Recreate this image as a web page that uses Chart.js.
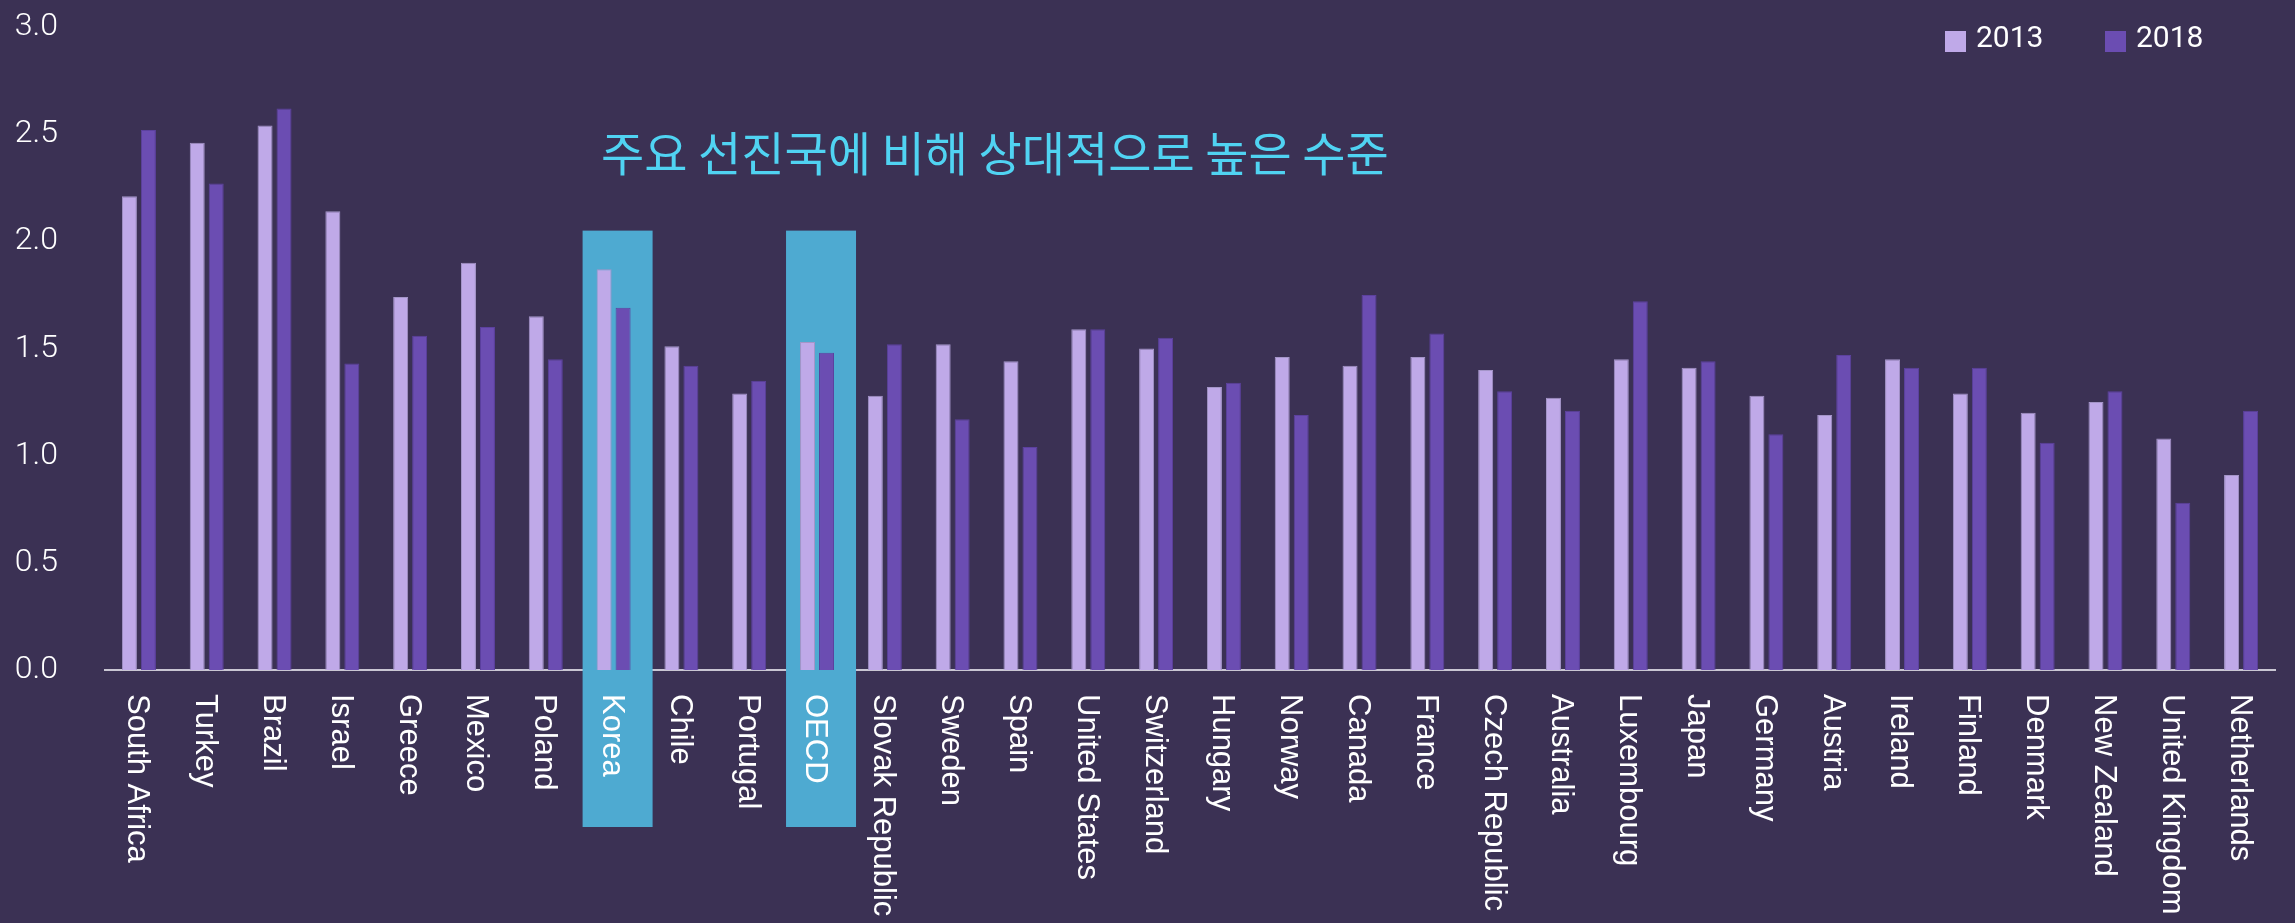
<!DOCTYPE html>
<html>
<head>
<meta charset="utf-8">
<script src="https://cdn.jsdelivr.net/npm/chart.js@4"></script>
<style>
  html, body { margin: 0; padding: 0; background: #3b3154; }
  #wrap { width: 2295px; height: 923px; position: relative; }
</style>
</head>
<body>
<div id="wrap"><canvas id="ratioChart"></canvas></div>
<script>
// 2013 vs 2018 comparison by country

const countries = ['South Africa', 'Turkey', 'Brazil', 'Israel', 'Greece', 'Mexico', 'Poland', 'Korea',
  'Chile', 'Portugal', 'OECD', 'Slovak Republic', 'Sweden', 'Spain', 'United States', 'Switzerland',
  'Hungary', 'Norway', 'Canada', 'France', 'Czech Republic', 'Australia', 'Luxembourg', 'Japan',
  'Germany', 'Austria', 'Ireland', 'Finland', 'Denmark', 'New Zealand', 'United Kingdom', 'Netherlands'];

const values2013 = [2.21, 2.46, 2.54, 2.14, 1.74, 1.90, 1.65, 1.87, 1.51, 1.29, 1.53, 1.28, 1.52, 1.44, 1.59, 1.50,
  1.32, 1.46, 1.42, 1.46, 1.40, 1.27, 1.45, 1.41, 1.28, 1.19, 1.45, 1.29, 1.20, 1.25, 1.08, 0.91];

const values2018 = [2.52, 2.27, 2.62, 1.43, 1.56, 1.60, 1.45, 1.69, 1.42, 1.35, 1.48, 1.52, 1.17, 1.04, 1.59, 1.55,
  1.34, 1.19, 1.75, 1.57, 1.30, 1.21, 1.72, 1.44, 1.10, 1.47, 1.41, 1.41, 1.06, 1.30, 0.78, 1.21];

const seriesNames = ['2013', '2018'];
const yTicks = [0, 0.5, 1.0, 1.5, 2.0, 2.5, 3.0];

const highlighted = ['Korea', 'OECD'];
const highlightTop = 2.05;
const note = '주요 선진국에 비해 상대적으로 높은 수준';

const COLOR_2013 = '#bfa9e8';
const COLOR_2018 = '#6b4db2';
const HIGHLIGHT = '#4eaad1';

// blue boxes behind Korea / OECD
const highlightPlugin = {
  id: 'highlight',
  beforeDatasetsDraw(chart) {
    const { ctx, chartArea, scales: { x, y } } = chart;
    ctx.save();
    ctx.fillStyle = HIGHLIGHT;
    highlighted.forEach(name => {
      const cx = x.getPixelForValue(countries.indexOf(name));
      const top = y.getPixelForValue(highlightTop);
      ctx.fillRect(cx - 31, top, 70, chartArea.bottom + 157 - top);
    });
    ctx.restore();
  }
};

// rotated country labels, legend, note text
const labelsPlugin = {
  id: 'labels',
  afterDraw(chart) {
    const { ctx, chartArea, scales: { x } } = chart;
    ctx.save();
    ctx.fillStyle = '#ffffff';
    ctx.font = '31px "Liberation Sans", Arial, sans-serif';
    ctx.textAlign = 'left';
    ctx.textBaseline = 'middle';
    countries.forEach((name, i) => {
      ctx.save();
      ctx.translate(x.getPixelForValue(i) - 2, chartArea.bottom + 24);
      ctx.rotate(Math.PI / 2);
      ctx.fillText(name, 0, 0);
      ctx.restore();
    });

    // legend
    const colors = [COLOR_2013, COLOR_2018];
    ctx.font = '30px Roboto, sans-serif';
    ctx.textBaseline = 'alphabetic';
    seriesNames.forEach((s, i) => {
      const bx = chartArea.right - 330 + i * 160;
      ctx.fillStyle = colors[i];
      ctx.fillRect(bx, 31, 21, 21);
      ctx.fillStyle = '#ffffff';
      ctx.fillText(s, bx + 31, 47);
    });

    // note
    ctx.fillStyle = '#50d3f2';
    ctx.font = '47px "Noto Sans CJK KR", sans-serif';
    ctx.textBaseline = 'middle';
    ctx.fillText(note, chartArea.left + 496, 153);
    ctx.restore();
  }
};

window.addEventListener('DOMContentLoaded', () => {
  const ctx = document.getElementById('ratioChart').getContext('2d');
  new Chart(ctx, {
    type: 'bar',
    data: {
      labels: countries,
      datasets: [
        { label: seriesNames[0], data: values2013, backgroundColor: COLOR_2013, borderColor: '#a495c8', borderWidth: 1 },
        { label: seriesNames[1], data: values2018, backgroundColor: COLOR_2018, borderColor: '#5c419e', borderWidth: 1 }
      ]
    },
    options: {
      responsive: true,
      maintainAspectRatio: false,
      animation: false,
      layout: { padding: { left: 14, top: 27, right: 20, bottom: 0 } },
      datasets: { bar: { categoryPercentage: 0.56, barPercentage: 0.79 } },
      plugins: {
        legend: { display: false },
        tooltip: { enabled: false }
      },
      scales: {
        x: {
          grid: { display: false, drawTicks: false },
          ticks: { display: false },
          border: { color: '#c9c6d3', width: 2 },
          afterFit(scale) { scale.height = 253; }
        },
        y: {
          min: 0,
          max: 3,
          afterBuildTicks(scale) { scale.ticks = yTicks.map(v => ({ value: v })); },
          afterFit(scale) {
            scale.width = 91;
            scale.paddingTop = 16;
            scale.paddingBottom = 16;
          },
          grid: { display: false, drawTicks: false },
          border: { display: false },
          ticks: {
            color: '#ffffff',
            padding: 47,
            font: { family: 'Roboto', size: 32, weight: 300 },
            callback: v => v.toFixed(1)
          }
        }
      }
    },
    plugins: [highlightPlugin, labelsPlugin]
  });
});
</script>
</body>
</html>
